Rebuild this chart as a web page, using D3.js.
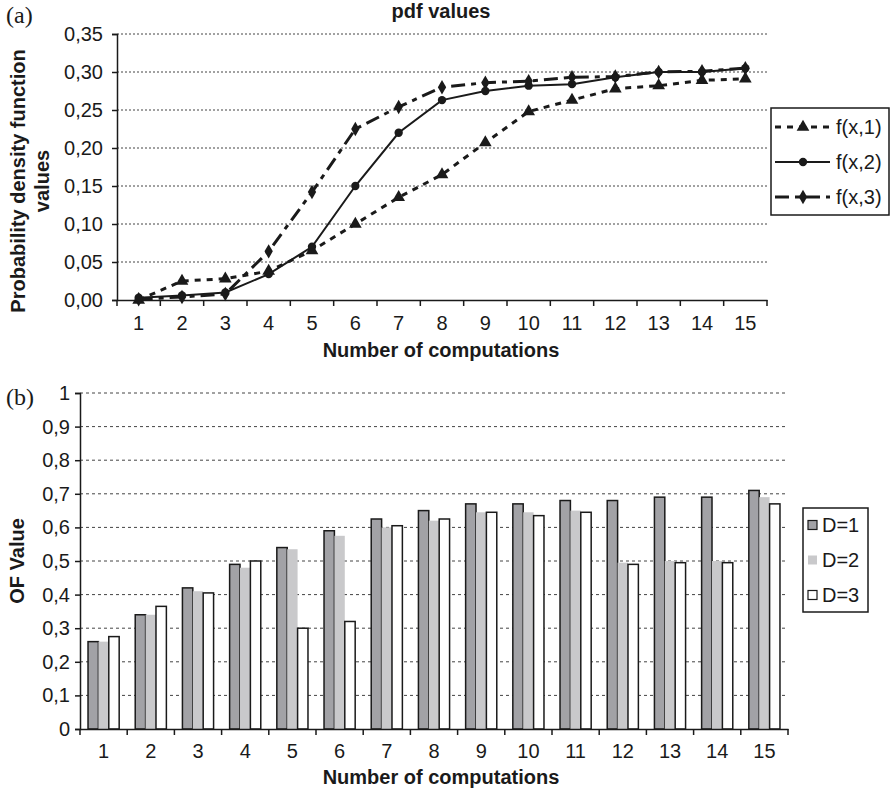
<!DOCTYPE html>
<html>
<head>
<meta charset="utf-8">
<script src="https://cdn.jsdelivr.net/npm/d3@7"></script>
<style>
  body { margin: 0; background: #fff; }
  svg { display: block; }
  svg text { font-family: "Liberation Sans", Arial, sans-serif; }
  svg text.serif { font-family: "Liberation Serif", "Times New Roman", serif; }
</style>
</head>
<body>
<svg id="chart" width="892" height="789"></svg>
<script>
// data
const computations = [1, 2, 3, 4, 5, 6, 7, 8, 9, 10, 11, 12, 13, 14, 15];

const pdfSeries = ["f(x,1)", "f(x,2)", "f(x,3)"];
const f1 = [0.000, 0.025, 0.028, 0.038, 0.065, 0.100, 0.135, 0.165, 0.207, 0.248, 0.263, 0.278, 0.282, 0.289, 0.291];
const f2 = [0.003, 0.006, 0.010, 0.034, 0.070, 0.150, 0.220, 0.263, 0.275, 0.282, 0.284, 0.293, 0.300, 0.300, 0.305];
const f3 = [0.001, 0.004, 0.008, 0.064, 0.142, 0.225, 0.254, 0.280, 0.286, 0.288, 0.293, 0.294, 0.300, 0.301, 0.305];
const pdfTicks = [0, 0.05, 0.10, 0.15, 0.20, 0.25, 0.30, 0.35];

const ofSeries = ["D=1", "D=2", "D=3"];
const d1 = [0.26, 0.34, 0.42, 0.49, 0.54, 0.59, 0.625, 0.65, 0.67, 0.67, 0.68, 0.68, 0.69, 0.69, 0.71];
const d2 = [0.26, 0.34, 0.41, 0.48, 0.535, 0.575, 0.60, 0.62, 0.645, 0.645, 0.65, 0.495, 0.50, 0.50, 0.69];
const d3v = [0.275, 0.365, 0.405, 0.50, 0.30, 0.32, 0.605, 0.625, 0.645, 0.635, 0.645, 0.49, 0.495, 0.495, 0.67];
const ofTicks = [0, 0.1, 0.2, 0.3, 0.4, 0.5, 0.6, 0.7, 0.8, 0.9, 1];

const locale = d3.formatLocale({decimal: ",", thousands: ".", grouping: [3], currency: ["", ""]});
const INK = "#1a1a1a";
const FS = 20;

const svg = d3.select("#chart");
svg.append("rect").attr("width", 892).attr("height", 789).attr("fill", "#fff");

const styleAxis = ax => {
  ax.attr("font-family", null).attr("font-size", null);
  ax.select(".domain").attr("stroke", INK).attr("stroke-width", 1.5);
  ax.selectAll(".tick line").attr("stroke", INK).attr("stroke-width", 1.5);
  ax.selectAll("text").attr("font-size", FS).attr("fill", INK);
};

/////////////////////// (a) pdf values ///////////////////////
const A = {left: 117, right: 767, top: 34, bottom: 300};
const xA = d3.scaleBand().domain(computations).range([A.left, A.right]);
const yA = d3.scaleLinear().domain([0, 0.35]).range([A.bottom, A.top]);
const cx = d => xA(d) + xA.bandwidth() / 2;

const gA = svg.append("g");

// gridlines
gA.append("g").selectAll("line")
  .data(pdfTicks.filter(t => t > 0))
  .join("line")
  .attr("x1", A.left).attr("x2", A.right)
  .attr("y1", d => yA(d)).attr("y2", d => yA(d))
  .attr("stroke", "#444").attr("stroke-width", 1)
  .attr("stroke-dasharray", "2,2");

// y axis
gA.append("g")
  .attr("transform", `translate(${A.left},0)`)
  .call(d3.axisLeft(yA).tickValues(pdfTicks).tickSize(5).tickPadding(9).tickFormat(locale.format(".2f")))
  .call(styleAxis);

// x axis
gA.append("g")
  .attr("transform", `translate(0,${A.bottom})`)
  .call(d3.axisBottom(xA).tickSize(0).tickPadding(16))
  .call(styleAxis);
gA.append("g").selectAll("line")
  .data(computations.map(c => xA(c)).concat([A.right]))
  .join("line")
  .attr("x1", d => d).attr("x2", d => d)
  .attr("y1", A.bottom).attr("y2", A.bottom + 6)
  .attr("stroke", INK).attr("stroke-width", 1.5);

// lines + markers
const pdfStyles = [
  {values: f1, dash: "6,6", width: 3, symbol: d3.symbolTriangle, size: 70},
  {values: f2, dash: null, width: 2, symbol: d3.symbolCircle, size: 55},
  {values: f3, dash: "14,6,5,6", width: 3, symbol: d3.symbolDiamond, size: 60}
];
const line = d3.line().x((d, i) => cx(computations[i])).y(d => yA(d));

pdfStyles.forEach(s => {
  gA.append("path")
    .attr("d", line(s.values))
    .attr("fill", "none")
    .attr("stroke", INK)
    .attr("stroke-width", s.width)
    .attr("stroke-dasharray", s.dash);
  gA.append("g").selectAll("path")
    .data(s.values)
    .join("path")
    .attr("transform", (d, i) => `translate(${cx(computations[i])},${yA(d)})`)
    .attr("d", d3.symbol(s.symbol, s.size))
    .attr("fill", INK);
});

// titles
svg.append("text").attr("x", 441).attr("y", 18).attr("text-anchor", "middle")
  .attr("font-size", FS).attr("font-weight", "bold").attr("fill", INK).text("pdf values");
svg.append("text").attr("x", 441).attr("y", 357).attr("text-anchor", "middle")
  .attr("font-size", FS).attr("font-weight", "bold").attr("fill", INK).text("Number of computations");
const yTitleA = svg.append("text").attr("transform", "translate(0,181) rotate(-90)")
  .attr("text-anchor", "middle").attr("font-size", FS).attr("font-weight", "bold").attr("fill", INK);
yTitleA.append("tspan").attr("x", 0).attr("y", 25).text("Probability density function");
yTitleA.append("tspan").attr("x", 0).attr("y", 49).text("values");
svg.append("text").attr("class", "serif").attr("x", 6).attr("y", 23)
  .attr("font-size", 24).attr("fill", INK).text("(a)");

// legend (a)
const legA = svg.append("g");
legA.append("rect").attr("x", 771).attr("y", 108).attr("width", 118).attr("height", 107)
  .attr("fill", "#fff").attr("stroke", INK).attr("stroke-width", 1.5);
pdfStyles.forEach((s, i) => {
  const y = 127 + i * 35;
  legA.append("line").attr("x1", 775).attr("x2", 830).attr("y1", y).attr("y2", y)
    .attr("stroke", INK).attr("stroke-width", s.width).attr("stroke-dasharray", s.dash);
  legA.append("path").attr("transform", `translate(803,${y})`)
    .attr("d", d3.symbol(s.symbol, s.size)).attr("fill", INK);
  legA.append("text").attr("x", 836).attr("y", y).attr("dy", "0.35em")
    .attr("font-size", FS).attr("fill", INK).text(pdfSeries[i]);
});

/////////////////////// (b) OF value ///////////////////////
const B = {left: 80, right: 788, top: 393, bottom: 729};
const xB = d3.scaleBand().domain(computations).range([B.left, B.right]).paddingInner(0.34).paddingOuter(0.17);
const xBfull = d3.scaleBand().domain(computations).range([B.left, B.right]);
const xSub = d3.scaleBand().domain(ofSeries).range([0, xB.bandwidth()]);
const yB = d3.scaleLinear().domain([0, 1]).range([B.bottom, B.top]);

const gB = svg.append("g");

gB.append("g").selectAll("line")
  .data(ofTicks.filter(t => t > 0))
  .join("line")
  .attr("x1", B.left).attr("x2", B.right)
  .attr("y1", d => yB(d)).attr("y2", d => yB(d))
  .attr("stroke", "#444").attr("stroke-width", 1)
  .attr("stroke-dasharray", "3,3");

const ofData = [d1, d2, d3v];
const barStyles = [
  {fill: "#a2a2a6", stroke: INK},
  {fill: "#c9c9cb", stroke: "none"},
  {fill: "#ffffff", stroke: INK}
];
ofSeries.forEach((name, k) => {
  gB.append("g").selectAll("rect")
    .data(ofData[k])
    .join("rect")
    .attr("x", (d, i) => xB(computations[i]) + xSub(name))
    .attr("y", d => yB(d))
    .attr("width", xSub.bandwidth())
    .attr("height", d => yB(0) - yB(d))
    .attr("fill", barStyles[k].fill)
    .attr("stroke", barStyles[k].stroke)
    .attr("stroke-width", 1.5);
});

gB.append("g")
  .attr("transform", `translate(${B.left},0)`)
  .call(d3.axisLeft(yB).tickValues(ofTicks).tickSize(5).tickPadding(5).tickFormat(locale.format(".1~f")))
  .call(styleAxis);

gB.append("g")
  .attr("transform", `translate(0,${B.bottom})`)
  .call(d3.axisBottom(xBfull).tickSize(0).tickPadding(15))
  .call(styleAxis);
gB.append("g").selectAll("line")
  .data(computations.map(c => xBfull(c)).concat([B.right]))
  .join("line")
  .attr("x1", d => d).attr("x2", d => d)
  .attr("y1", B.bottom).attr("y2", B.bottom + 6)
  .attr("stroke", INK).attr("stroke-width", 1.5);

svg.append("text").attr("x", 441).attr("y", 784).attr("text-anchor", "middle")
  .attr("font-size", FS).attr("font-weight", "bold").attr("fill", INK).text("Number of computations");
svg.append("text").attr("transform", "translate(24,561) rotate(-90)")
  .attr("text-anchor", "middle").attr("font-size", FS).attr("font-weight", "bold").attr("fill", INK).text("OF Value");
svg.append("text").attr("class", "serif").attr("x", 6).attr("y", 405)
  .attr("font-size", 24).attr("fill", INK).text("(b)");

// legend (b)
const legB = svg.append("g");
legB.append("rect").attr("x", 803).attr("y", 508).attr("width", 65).attr("height", 104)
  .attr("fill", "#fff").attr("stroke", INK).attr("stroke-width", 1.5);
ofSeries.forEach((name, k) => {
  const y = 525 + k * 35;
  legB.append("rect").attr("x", 808).attr("y", y - 4.5).attr("width", 9).attr("height", 9)
    .attr("fill", barStyles[k].fill)
    .attr("stroke", barStyles[k].stroke).attr("stroke-width", 1.2);
  legB.append("text").attr("x", 822).attr("y", y).attr("dy", "0.35em")
    .attr("font-size", FS).attr("fill", INK).text(name);
});
</script>
</body>
</html>
